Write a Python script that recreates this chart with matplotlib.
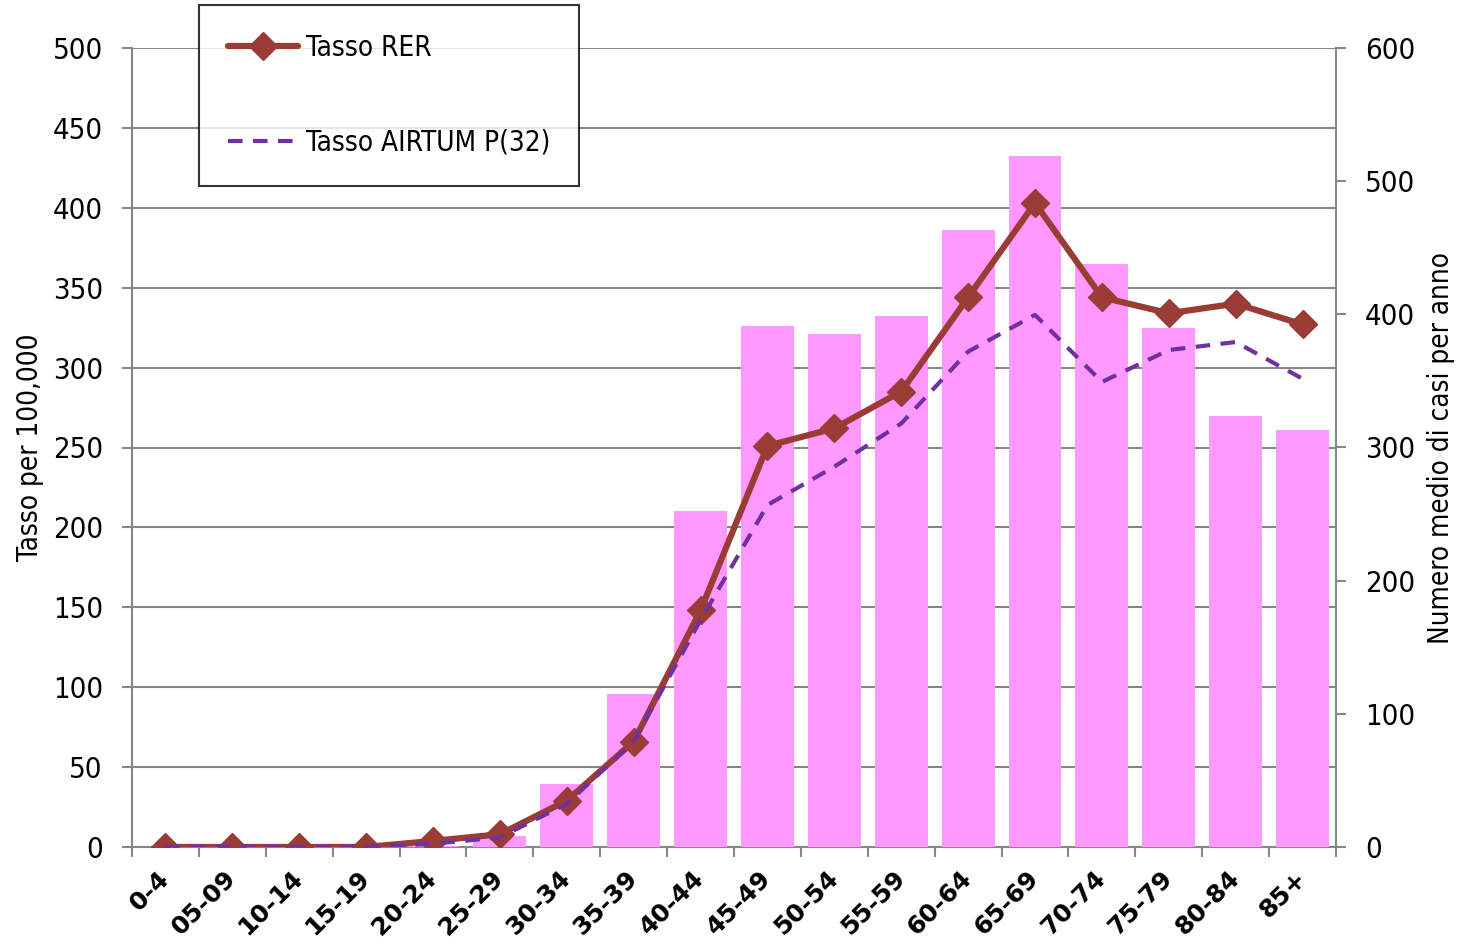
import matplotlib
matplotlib.use("Agg")
from matplotlib import pyplot as plt
from matplotlib import font_manager
from matplotlib.ticker import MultipleLocator, FixedLocator

# age classes
ages = ["0-4", "05-09", "10-14", "15-19", "20-24", "25-29", "30-34", "35-39",
        "40-44", "45-49", "50-54", "55-59", "60-64", "65-69", "70-74", "75-79",
        "80-84", "85+"]

# average number of cases per year (right axis, bars)
casi = [0, 0, 0, 0, 1, 8, 47, 115, 252, 391, 385, 399, 463, 519, 438, 390, 324, 313]

# rate per 100,000 (left axis)
tasso_rer = [0, 0, 0, 0, 3.8, 8, 29, 66, 148, 251, 262, 285, 344, 403, 344, 334, 340, 327]
tasso_airtum = [0, 0, 0, 0, 2, 6, 27, 66, 142, 214, 238, 265, 310, 333, 291, 311, 316, 293]

GRAY = "#868686"


# look for a narrow font file; the reference uses a condensed face
def narrow_font(size):
    files = [f.fname for f in font_manager.fontManager.ttflist]
    for key in ["LiberationSansNarrow-Regular", "DejaVuSansCondensed.ttf",
                "RobotoCondensed-Regular", "OpenSans_Condensed-Regular"]:
        for fn in files:
            if key in fn:
                return font_manager.FontProperties(fname=fn, size=size)
    return font_manager.FontProperties(family="DejaVu Sans", stretch="condensed", size=size)


tick_font = narrow_font(21)
label_font = narrow_font(20)

fig = plt.figure(figsize=(14.63, 9.44), dpi=100)
pos = [132 / 1463, 1 - 847 / 944, (1336 - 132) / 1463, (847 - 48) / 944]

# background axis: left scale, gridlines
ax = fig.add_axes(pos)
ax.set_ylim(0, 500)
ax.set_xlim(-0.5, len(ages) - 0.5)
ax.yaxis.set_major_locator(MultipleLocator(50))
ax.grid(True, axis="y", color=GRAY, linewidth=1.5)
ax.set_axisbelow(True)
for s in ["top", "right"]:
    ax.spines[s].set_visible(False)
for s in ["left", "bottom"]:
    ax.spines[s].set_color(GRAY)
    ax.spines[s].set_linewidth(1.5)
ax.tick_params(axis="y", direction="out", length=7, width=1.5, color=GRAY, pad=14)
for lab in ax.get_yticklabels():
    lab.set_fontproperties(tick_font)
ax.set_xticks(range(len(ages)))
ax.set_xticklabels(ages, rotation=45, ha="right", va="center", rotation_mode="anchor",
                   fontsize=18, fontweight="bold")
ax.tick_params(axis="x", which="major", length=0, pad=20)
ax.xaxis.set_minor_locator(FixedLocator([i - 0.5 for i in range(len(ages) + 1)]))
ax.tick_params(axis="x", which="minor", direction="out", length=7, width=1.5, color=GRAY)
ax.set_ylabel("Tasso per 100,000", fontproperties=label_font, labelpad=6)

# bars: right scale
axb = ax.twinx()
axb.set_ylim(0, 600)
axb.bar(range(len(ages)), casi, width=0.79, color="#FF99FF", zorder=2)
axb.yaxis.set_major_locator(MultipleLocator(100))
for s in ["top", "left", "bottom"]:
    axb.spines[s].set_visible(False)
axb.spines["right"].set_color(GRAY)
axb.spines["right"].set_linewidth(1.5)
axb.tick_params(axis="y", direction="out", length=7, width=1.5, color=GRAY, pad=14)
for lab in axb.get_yticklabels():
    lab.set_fontproperties(tick_font)
axb.set_ylabel("Numero medio di casi per anno", fontproperties=label_font, labelpad=8)

# lines on top, left scale
axl = ax.twinx()
axl.set_ylim(0, 500)
axl.axis("off")
axl.plot(range(len(ages)), tasso_rer, color="#9B3B36", linewidth=4.5, marker="D",
         markersize=14, solid_capstyle="round", label="Tasso RER", zorder=3)
axl.plot(range(len(ages)), tasso_airtum, color="#7030A0", linewidth=3,
         linestyle=(0, (3.5, 2.5)), label="Tasso AIRTUM P(32)", zorder=4)

leg = fig.legend(loc="upper left", bbox_to_anchor=(199 / 1463, 1 - 5 / 944),
                 borderaxespad=0, frameon=True, fancybox=False, edgecolor="black",
                 prop=narrow_font(20), handlelength=2.5,
                 handletextpad=0.3, labelspacing=2.4, borderpad=1.05)
leg.get_frame().set_linewidth(1.5)

fig.savefig("out.png", dpi=100)
